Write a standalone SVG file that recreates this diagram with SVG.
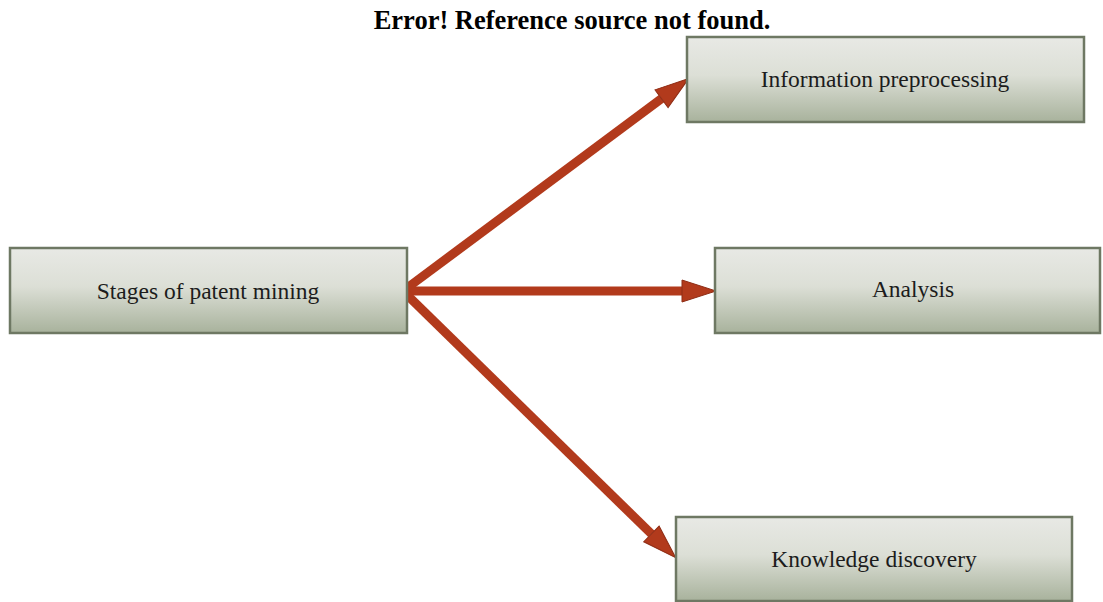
<svg xmlns="http://www.w3.org/2000/svg" width="1103" height="602" viewBox="0 0 1103 602">
  <style>
    .box { fill: url(#g); stroke: #6e7863; stroke-width: 2.5; }
    .lbl { font-family: "Liberation Serif", "Times New Roman", serif; font-size: 23.5px; fill: #1c1c1c; text-anchor: middle; }
    .title { font-family: "Liberation Serif", "Times New Roman", serif; font-size: 26.5px; font-weight: bold; fill: #000; text-anchor: middle; }
    .arr { stroke: #b23a1c; stroke-width: 9; fill: none; marker-end: url(#head); }
  </style>
  <defs>
    <linearGradient id="g" x1="0" y1="0" x2="0" y2="1">
      <stop offset="0" stop-color="#e8e9e5"/>
      <stop offset="0.45" stop-color="#dcdfd6"/>
      <stop offset="1" stop-color="#a8b29c"/>
    </linearGradient>
    <marker id="head" markerUnits="userSpaceOnUse" viewBox="-2 -13 38 26" markerWidth="38" markerHeight="26" refX="0" refY="0" orient="auto" overflow="visible">
      <path d="M0,-11 L34,0 L0,11 z" fill="#b23a1c" stroke="#8e2c14" stroke-width="1"/>
    </marker>
  </defs>
  <rect width="1103" height="602" fill="#fff"/>
  <text class="title" x="572" y="29">Error! Reference source not found.</text>

  <g id="connectors">
    <line class="arr" x1="403" y1="291" x2="661.5" y2="98.7"/>
    <line class="arr" x1="403" y1="291" x2="682" y2="291"/>
    <line class="arr" x1="403" y1="291" x2="651.4" y2="533.9"/>
  </g>

  <g id="stages">
    <rect class="box" x="10" y="248" width="397" height="85"/>
    <text class="lbl" x="208" y="299">Stages of patent mining</text>
  </g>
  <g id="info">
    <rect class="box" x="687" y="37" width="397" height="85"/>
    <text class="lbl" x="885" y="87">Information preprocessing</text>
  </g>
  <g id="analysis">
    <rect class="box" x="715" y="248" width="385" height="85"/>
    <text class="lbl" x="913" y="297">Analysis</text>
  </g>
  <g id="knowledge">
    <rect class="box" x="676" y="517" width="396" height="84"/>
    <text class="lbl" x="874" y="567">Knowledge discovery</text>
  </g>
</svg>
